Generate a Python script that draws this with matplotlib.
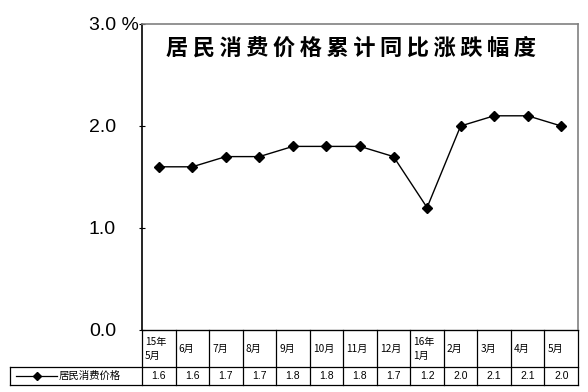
import matplotlib
matplotlib.use("Agg")
import matplotlib.pyplot as plt
from matplotlib.ticker import FixedLocator, FixedFormatter

plt.rcParams['font.family'] = ['Noto Sans CJK SC', 'DejaVu Sans']

categories = ["15年\n5月", "6月", "7月", "8月", "9月", "10月", "11月", "12月",
              "16年\n1月", "2月", "3月", "4月", "5月"]
values = [1.6, 1.6, 1.7, 1.7, 1.8, 1.8, 1.8, 1.7, 1.2, 2.0, 2.1, 2.1, 2.0]
series_name = "居民消费价格"
title = "居民消费价格累计同比涨跌幅度"
yticks = [0, 1, 2, 3]
yticklabels = ["0.0", "1.0", "2.0", "3.0 %"]

W, H = 588, 392
fig = plt.figure(figsize=(W / 100, H / 100), dpi=100)
L, R, T, B = 142, 578, 24, 330
ax = fig.add_axes([L / W, 1 - B / H, (R - L) / W, (B - T) / H])

n = len(categories)
xs = list(range(n))
ax.plot(xs, values, color='black', lw=1.0, marker='D', ms=5.2, mfc='black', mec='black', clip_on=False)
ax.set_xlim(-0.5, n - 0.5)
ax.set_ylim(0, 3)
ax.yaxis.set_major_locator(FixedLocator(yticks))
ax.yaxis.set_major_formatter(FixedFormatter(yticklabels))
ax.tick_params(axis='y', labelsize=14, length=4.5, width=0.8, direction='inout', pad=36)
for lab in ax.get_yticklabels():
    lab.set_horizontalalignment('left')
    lab.set_fontfamily(['Liberation Sans', 'DejaVu Sans'])
ax.set_xticks([])
for s in ['top', 'right']:
    ax.spines[s].set_color('#808080')
    ax.spines[s].set_linewidth(1.2)
ax.spines['left'].set_color('black')
ax.spines['left'].set_linewidth(1.2)
ax.spines['bottom'].set_color('black')

title_spaced = "\u2009".join(title)
ax.text((351 - L) / (R - L), (B - 48) / (B - T), title_spaced, transform=ax.transAxes,
        ha='center', va='center', fontsize=16, fontweight='bold')

# table
ph = B - T
pw = R - L
def ay(py):
    return (B - py) / ph
def ax_(px):
    return (px - L) / pw

y_top = ay(330)
y_mid = ay(367)
y_bot = ay(385)
x_leg = ax_(10)
tr = ax.transAxes
kw = dict(transform=tr, color='black', lw=0.9, clip_on=False)
ax.plot([0, 1], [y_top, y_top], **kw)
ax.plot([x_leg, 1], [y_mid, y_mid], **kw)
ax.plot([x_leg, 1], [y_bot, y_bot], **kw)
for i in range(n + 1):
    xf = i / n
    ax.plot([xf, xf], [y_top, y_bot], **kw)
ax.plot([x_leg, x_leg], [y_mid, y_bot], **kw)

for i in range(n):
    xl = i / n
    ax.text(xl + 3 / pw, (y_top + y_mid) / 2, categories[i], transform=tr,
            ha='left', va='center', fontsize=7.3, linespacing=1.5)
    ax.text((i + 0.5) / n, (y_mid + y_bot) / 2, f"{values[i]:.1f}", transform=tr,
            ha='center', va='center', fontsize=7.5, family=['Liberation Sans', 'DejaVu Sans'])

ym = (y_mid + y_bot) / 2
ax.plot([ax_(16), ax_(57)], [ym, ym], color='black', lw=0.9, transform=tr, clip_on=False)
ax.plot([ax_(37)], [ym], marker='D', ms=4, color='black', transform=tr, clip_on=False)
ax.text(ax_(59), ym, series_name, transform=tr, ha='left', va='center', fontsize=7.5)

fig.savefig("out.png", dpi=100)
